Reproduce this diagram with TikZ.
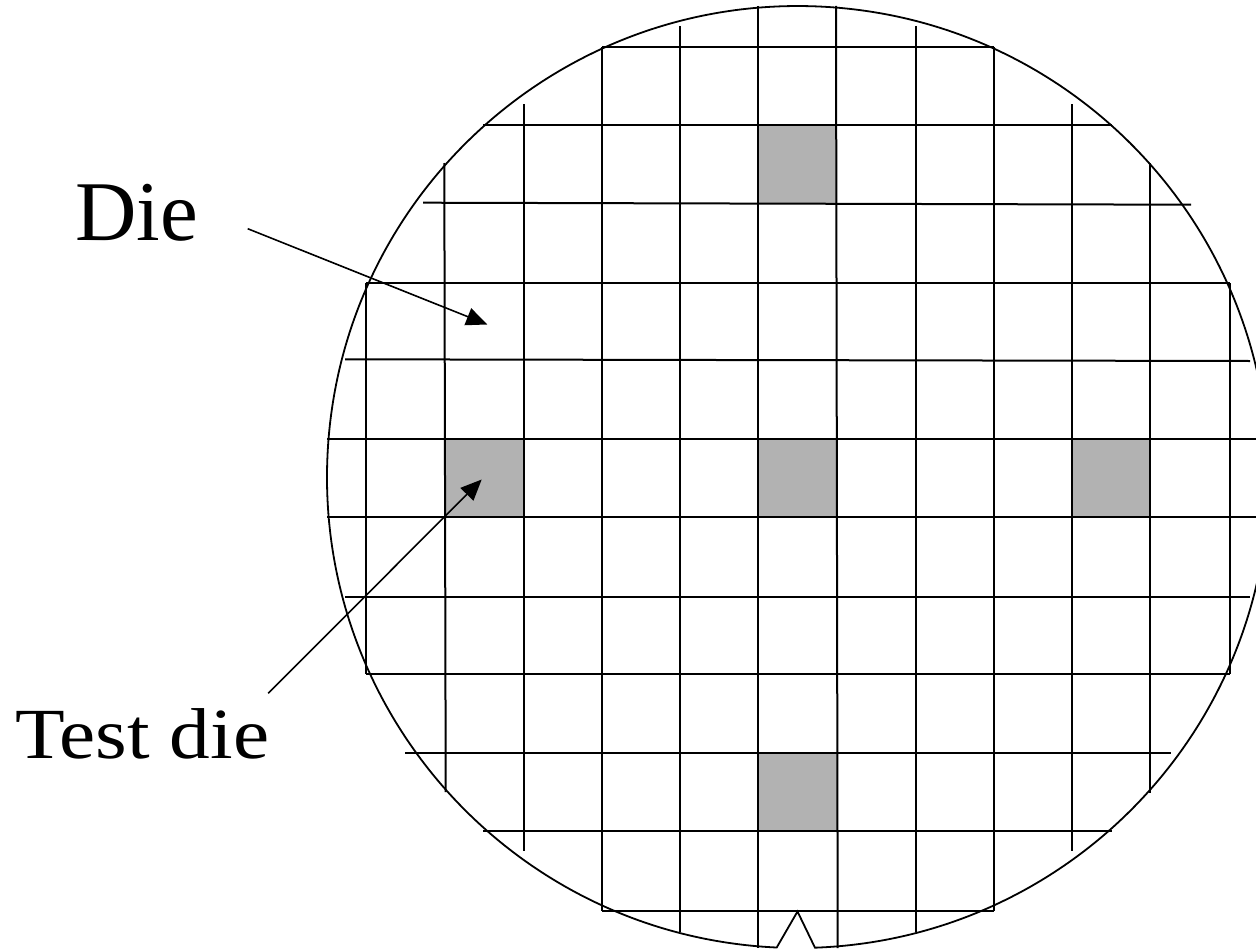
\documentclass[tikz,border=0pt]{standalone}
\usepackage{fontspec}
\setmainfont{Liberation Serif}
\usetikzlibrary{arrows.meta}
\definecolor{diegray}{gray}{0.7}
\tikzset{
  gridline/.style={line width=2pt, black},
  waferedge/.style={line width=1.8pt, black, line join=miter},
  testsq/.style={fill=diegray, draw=none},
  pointer/.style={line width=1.6pt, -{Triangle[length=21pt,width=18pt]}},
  bigtext/.style={anchor=base west, inner sep=0pt, font=\fontsize{85}{90}\selectfont},
}
\begin{document}
\begin{tikzpicture}[x=1pt,y=-1pt]
\useasboundingbox[fill=white] (0,0) rectangle (1256,950);
% test dies
\fill[testsq] (758,125) rectangle (837,203);
\fill[testsq] (444,438.5) rectangle (524,517);
\fill[testsq] (758,438.5) rectangle (837,517);
\fill[testsq] (1072,438.5) rectangle (1150,517);
\fill[testsq] (758,753) rectangle (837,831);
% vertical grid lines
\draw[gridline] (366,283) -- (366,674);
\draw[gridline] (444.3,163) -- (445.7,792);
\draw[gridline] (524,104) -- (524,851);
\draw[gridline] (602,47) -- (602,911);
\draw[gridline] (680,26) -- (680,932);
\draw[gridline] (758,6) -- (758,948);
\draw[gridline] (836,6) -- (837.7,948);
\draw[gridline] (916,26) -- (916,932);
\draw[gridline] (994,47) -- (994,911);
\draw[gridline] (1072,104) -- (1072,851);
\draw[gridline] (1150,163) -- (1150,793);
\draw[gridline] (1230,283) -- (1230,674);
% horizontal grid lines
\draw[gridline] (602,47) -- (994,47);
\draw[gridline] (483,125) -- (1112,125);
\draw[gridline] (423,202.7) -- (1191,204.7);
\draw[gridline] (366,283) -- (1230,283);
\draw[gridline] (345,359.3) -- (1250,361);
\draw[gridline] (327,438.5) -- (1269,438.5);
\draw[gridline] (327,517) -- (1269,517);
\draw[gridline] (345,597) -- (1250,597);
\draw[gridline] (366,674) -- (1230,674);
\draw[gridline] (405,753) -- (1171,753);
\draw[gridline] (483,831) -- (1112,831);
\draw[gridline] (602,911) -- (994,911);
% wafer outline with notch
\draw[waferedge] (776.7,947.5) arc[start angle=92.59, end angle=447.93, radius=471]
  -- (797.5,911.5) -- cycle;
% labels
\node[bigtext] (die) at (75,240) {Die};
\node[bigtext, xscale=1.13, font=\fontsize{72}{80}\selectfont] (testdie) at (15,758) {Test die};
\coordinate (dietail) at (247.7,228.7);
\coordinate (dietip) at (487.3,324.5);
\coordinate (testtail) at (268.3,693.3);
\coordinate (testtip) at (481.7,479.5);
\draw[pointer] (dietail) -- (dietip);
\draw[pointer] (testtail) -- (testtip);
\end{tikzpicture}
\end{document}
